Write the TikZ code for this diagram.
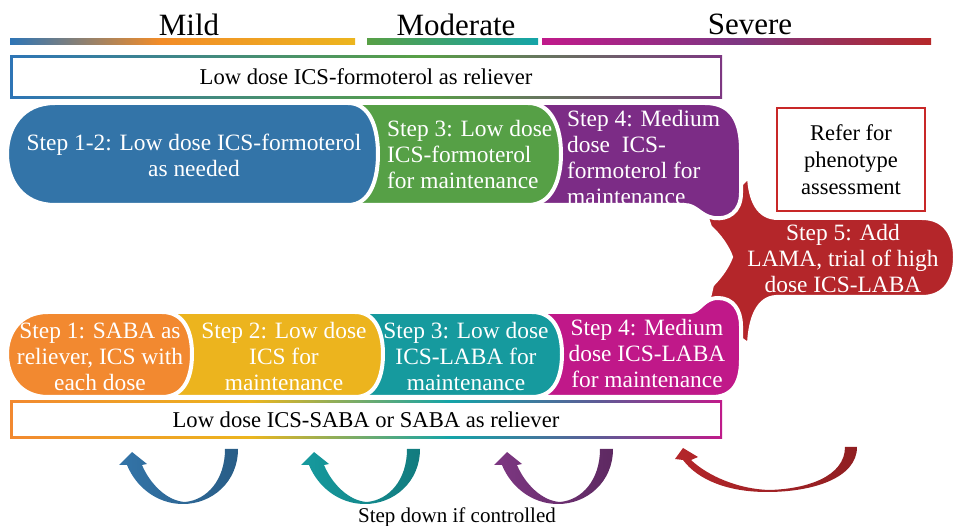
\documentclass[tikz,border=0pt]{standalone}
\usepackage{fontspec}
\setmainfont{Liberation Serif}
\usetikzlibrary{positioning}

% bar and frame colours
\definecolor{barblue}{RGB}{46,117,182}
\definecolor{barorange}{RGB}{242,140,40}
\definecolor{baryellow}{RGB}{236,181,30}
\definecolor{bargreen}{RGB}{88,160,70}
\definecolor{barteal}{RGB}{20,164,168}
\definecolor{barmagenta}{RGB}{192,26,138}
\definecolor{barpurple}{RGB}{125,55,130}
\definecolor{barred}{RGB}{182,40,42}
\definecolor{barviolet}{RGB}{95,90,150}
% step colours
\definecolor{stepblue}{RGB}{51,116,168}
\definecolor{stepgreen}{RGB}{86,160,70}
\definecolor{steppurple}{RGB}{124,44,134}
\definecolor{stepred}{RGB}{180,38,42}
\definecolor{steporange}{RGB}{242,137,48}
\definecolor{stepyellow}{RGB}{236,180,30}
\definecolor{stepteal}{RGB}{22,154,158}
\definecolor{stepmagenta}{RGB}{192,24,137}
\definecolor{referred}{RGB}{200,40,40}

% U-shaped step down arrow, tip at (#1,452)
\newcommand{\stepdown}[3]{%
  \begin{scope}[shift={(#1,452)}]
    \shade[left color=#2, right color=#3] (106,-3) .. controls (106,30) and (80,52) .. (51,52)
      .. controls (25,52) and (4,35) .. (-5,13) -- (-13,13) -- (0,0) -- (15,12) -- (10,13)
      .. controls (18,32) and (35,49) .. (53,50) .. controls (75,48) and (93,28) .. (93,-3) -- cycle;
  \end{scope}}

\begin{document}
\begin{tikzpicture}[x=1pt,y=-1pt,
    stepshape/.style={draw=white, line width=4pt},
    steptext/.style={text=white, align=center, inner sep=0pt, font=\fontsize{23.4}{26}\selectfont},
    stepleft/.style={steptext, align=left, anchor=west},
    boxtext/.style={inner sep=0pt, font=\fontsize{22.6}{26}\selectfont},
    heading/.style={inner sep=0pt, font=\fontsize{31}{34}\selectfont}]

\useasboundingbox (0,0) rectangle (959,526);

% severity headings and bars
\node[heading] (mild) at (189,24.5) {Mild};
\node[heading] (moderate) at (456,24.5) {Moderate};
\node[heading] (severe) at (750,24.5) {Severe};
\shade[left color=barblue, right color=barorange] (10,39) rectangle (160,45);
\shade[left color=barorange, right color=baryellow] (159.5,39) rectangle (355,45);
\shade[left color=bargreen, right color=barteal] (367,39) rectangle (538,45);
\shade[left color=barmagenta, right color=barpurple] (542,39) rectangle (740,45);
\shade[left color=barpurple, right color=barred] (739.5,39) rectangle (931,45);

% reliever frame, top
\shade[left color=barblue, right color=bargreen] (10,56) rectangle (420,99);
\shade[left color=bargreen, right color=barpurple] (419.5,56) rectangle (722,99);
\fill[white] (12.5,58.5) rectangle (719.5,96.5);
\node[boxtext] (frel) at (366,77) {Low dose ICS-formoterol as reliever};

% top track
\fill[stepred, stepshape] (778,218) -- (922,218) .. controls (945,218) and (955,235) .. (955,257)
  .. controls (955,280) and (945,297) .. (922,297) -- (776,297)
  .. controls (758,298) and (750,318) .. (749,345) -- (735,335) -- (705,315) -- (712,285)
  .. controls (722,275) and (728,265) .. (731,257) .. controls (728,248) and (720,236) .. (710,227)
  -- (705,212) -- (730,195) -- (749,176) .. controls (750,200) and (758,218) .. (778,218) -- cycle;
\fill[steppurple, stepshape] (530,103) -- (705,103) .. controls (732,103) and (741,122) .. (741,150)
  -- (741,193) .. controls (741,212) and (728,220) .. (714,218)
  .. controls (700,216) and (697,205) .. (684,205) -- (530,205) -- cycle;
\fill[stepgreen, stepshape] (340,103) -- (528,103) .. controls (552,103) and (561,128) .. (561,154)
  .. controls (561,180) and (552,205) .. (528,205) -- (340,205) -- cycle;
\fill[stepblue, stepshape] (55,103) -- (348,103) .. controls (370,103) and (378,128) .. (378,154)
  .. controls (378,180) and (370,205) .. (348,205) -- (55,205)
  .. controls (22,205) and (7,180) .. (7,154) .. controls (7,128) and (22,103) .. (55,103) -- cycle;

% bottom track
\fill[stepmagenta, stepshape] (530,312) -- (690,312) .. controls (700,312) and (703,298) .. (718,298)
  .. controls (733,298) and (741,310) .. (741,326) -- (741,360)
  .. controls (741,385) and (731,397) .. (712,397) -- (530,397) -- cycle;
\fill[stepteal, stepshape] (350,312) -- (532,312) .. controls (555,312) and (562,333) .. (562,354)
  .. controls (562,376) and (555,397) .. (532,397) -- (350,397) -- cycle;
\fill[stepyellow, stepshape] (170,312) -- (355,312) .. controls (376,312) and (383,333) .. (383,354)
  .. controls (383,376) and (376,397) .. (355,397) -- (170,397) -- cycle;
\fill[steporange, stepshape] (48,312) -- (162,312) .. controls (185,312) and (192,333) .. (192,354)
  .. controls (192,376) and (185,397) .. (162,397) -- (48,397)
  .. controls (20,397) and (7,376) .. (7,354) .. controls (7,333) and (20,312) .. (48,312) -- cycle;

% step labels
\node[steptext] (s12) at (194,155) {Step 1-2: Low dose ICS-formoterol\\as needed};
\node[stepleft] (s3f) at (387,154.5) {Step 3: Low dose\\ICS-formoterol\\for maintenance};
\node[stepleft] (s4f) at (567,157) {Step 4: Medium\\dose\ \ ICS-\\formoterol for\\maintenance};
\node[steptext] (s5) at (843,258.5) {Step 5: Add\\LAMA, trial of high\\dose ICS-LABA};
\node[steptext] (s1) at (100,356.5) {Step 1: SABA as\\reliever, ICS with\\each dose};
\node[steptext] (s2) at (284,356.5) {Step 2: Low dose\\ICS for\\maintenance};
\node[steptext] (s3l) at (466,356.5) {Step 3: Low dose\\ICS-LABA for\\maintenance};
\node[steptext] (s4l) at (647,353.5) {Step 4: Medium\\dose ICS-LABA\\for maintenance};

% referral box
\draw[referred, line width=1.5pt, fill=white] (777,108) rectangle (925,211);
\node[boxtext, align=center, font=\fontsize{22.5}{27}\selectfont] (refer) at (851,160) {Refer for\\phenotype\\assessment};

% reliever frame, bottom
\shade[left color=steporange, right color=baryellow] (10,401) rectangle (250,439);
\shade[left color=baryellow, right color=barteal] (249.5,401) rectangle (450,439);
\shade[left color=barteal, right color=barviolet] (449.5,401) rectangle (600,439);
\shade[left color=barviolet, right color=barmagenta] (599.5,401) rectangle (722,439);
\fill[white] (12.5,403.5) rectangle (719.5,436.5);
\node[boxtext] (srel) at (366,420) {Low dose ICS-SABA or SABA as reliever};

% step down arrows
\stepdown{132}{stepblue}{stepblue!80!black}
\stepdown{314}{stepteal}{stepteal!80!black}
\stepdown{507}{barpurple}{barpurple!75!black}
\begin{scope}[shift={(683,448)}]
  \shade[left color=stepred, right color=stepred!80!black] (174,-1) .. controls (174,30) and (130,44) .. (84,44)
    .. controls (45,44) and (15,32) .. (0,12) -- (-8,11) -- (0,0) -- (15,9) -- (8,12)
    .. controls (25,28) and (55,41) .. (86,42) .. controls (125,41) and (162,28) .. (162,-1) -- cycle;
\end{scope}
\node[inner sep=0pt, font=\fontsize{21}{24}\selectfont] (down) at (457,517) {Step down if controlled};
\end{tikzpicture}
\end{document}
